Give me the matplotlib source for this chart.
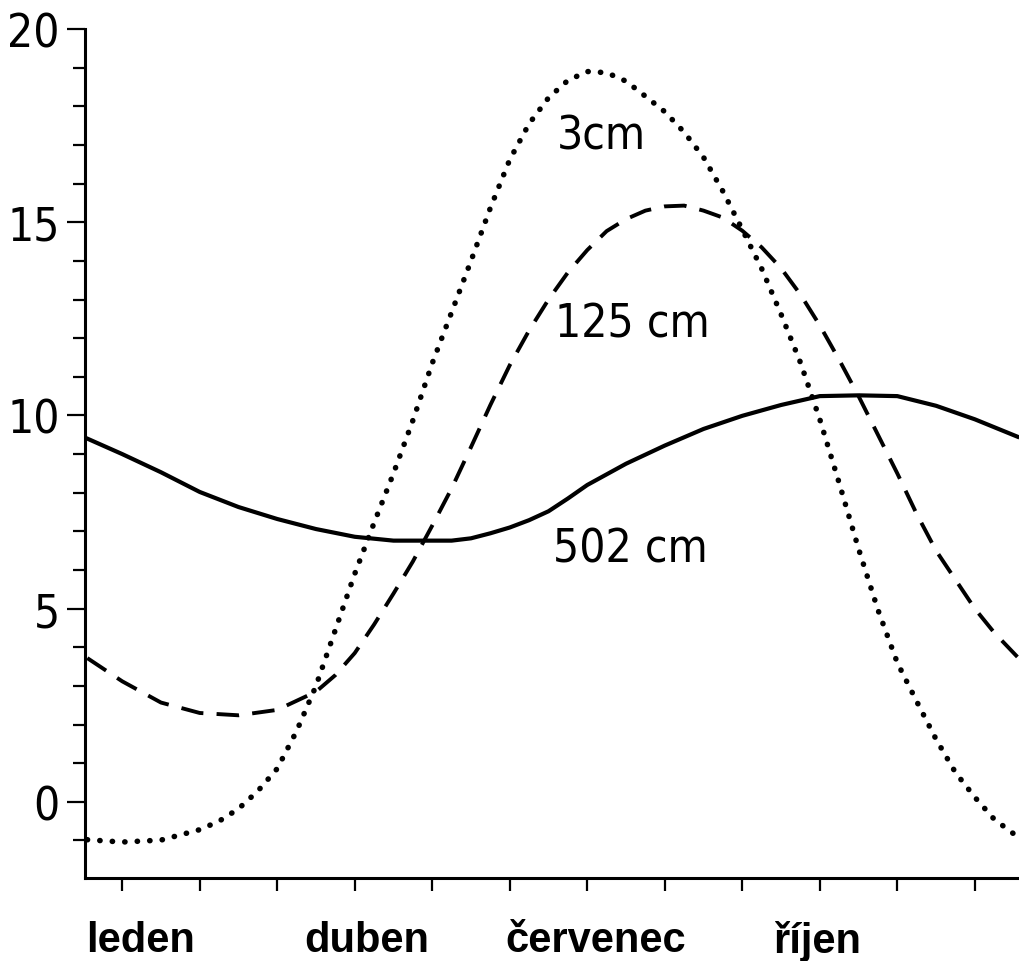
import matplotlib
matplotlib.use("Agg")
import matplotlib.pyplot as plt
from matplotlib.transforms import ScaledTranslation

# ---- data ----
# 3 cm depth (dotted)
m_3cm = [0.55, 1, 1.5, 2, 2.25, 2.5, 2.75, 3, 3.25, 3.5, 3.75, 4, 4.25,
         4.5, 4.75, 5, 5.25, 5.5, 5.75, 6, 6.25, 6.5, 6.75, 7, 7.25, 7.5,
         7.75, 8, 8.25, 8.5, 8.75, 9, 9.25, 9.5, 9.75, 10, 10.25, 10.5,
         10.75, 11, 11.25, 11.5, 11.75, 12, 12.25, 12.55]
t_3cm = [-0.98, -1.04, -0.99, -0.72, -0.5, -0.18, 0.28, 0.86, 1.83, 3.0,
         4.45, 5.9, 7.22, 8.5, 9.87, 11.35, 12.67, 14.0, 15.37, 16.62,
         17.55, 18.22, 18.67, 18.9, 18.87, 18.65, 18.26, 17.86, 17.33,
         16.68, 15.8, 14.81, 13.8, 12.62, 11.37, 9.9, 8.25, 6.55, 4.97,
         3.6, 2.6, 1.62, 0.76, 0.12, -0.45, -0.9]
# 125 cm depth (dashed)
m_125cm = [0.55, 1, 1.5, 2, 2.5, 3, 3.5, 3.75, 4, 4.25, 4.5, 4.75, 5,
           5.25, 5.5, 5.75, 6, 6.25, 6.5, 6.75, 7, 7.25, 7.5, 7.75, 8,
           8.25, 8.5, 8.75, 9, 9.25, 9.5, 9.75, 10, 10.25, 10.5, 10.75,
           11, 11.25, 11.5, 11.75, 12, 12.25, 12.55]
t_125cm = [3.72, 3.12, 2.57, 2.3, 2.24, 2.38, 2.85, 3.28, 3.85, 4.59,
           5.39, 6.22, 7.15, 8.11, 9.18, 10.27, 11.3, 12.2, 13.0, 13.7,
           14.28, 14.77, 15.08, 15.3, 15.41, 15.43, 15.3, 15.12, 14.78,
           14.35, 13.81, 13.13, 12.33, 11.44, 10.5, 9.5, 8.5, 7.45, 6.5,
           5.75, 5.0, 4.38, 3.75]
# 502 cm depth (solid)
m_502cm = [0.55, 1, 1.5, 2, 2.5, 3, 3.5, 4, 4.5, 5, 5.25, 5.5, 5.75, 6,
           6.25, 6.5, 6.75, 7, 7.5, 8, 8.5, 9, 9.5, 10, 10.5, 11, 11.5,
           12, 12.55]
t_502cm = [9.4, 9.0, 8.53, 8.02, 7.63, 7.32, 7.06, 6.86, 6.76, 6.76, 6.76,
           6.82, 6.95, 7.10, 7.29, 7.52, 7.85, 8.2, 8.75, 9.22, 9.65, 9.99,
           10.27, 10.5, 10.52, 10.5, 10.25, 9.9, 9.45]

series_labels = ["3cm", "125 cm", "502 cm"]
month_ticks = list(range(1, 13))
month_label_pos = [1, 4, 7, 10]
month_labels = ["leden", "duben", "červenec", "říjen"]
y_major = [0, 5, 10, 15, 20]
y_minor = list(range(-1, 21))

narrow = ["DejaVu Sans"]

fig = plt.figure(figsize=(10.19, 9.62), dpi=100)
ax = fig.add_axes([0.0834, 0.0863, 0.9166, 0.8825])

ax.plot(m_3cm, t_3cm, color="black", lw=4.0, linestyle=(0, (0.05, 2.2)),
        dash_capstyle="round", solid_capstyle="round")
ax.plot(m_125cm, t_125cm, color="black", lw=2.8, linestyle=(0, (5.8, 3.4)),
        dash_capstyle="butt")
ax.plot(m_502cm, t_502cm, color="black", lw=3.0, linestyle="-")

ax.set_xlim(0.52, 12.57)
ax.set_ylim(-1.97, 20)

for s in ["top", "right"]:
    ax.spines[s].set_visible(False)
for s in ["left", "bottom"]:
    ax.spines[s].set_linewidth(2.2)

ax.set_xticks(month_ticks, minor=True)
ax.set_xticks(month_label_pos)
ax.set_xticklabels(month_labels, fontfamily="Liberation Sans",
                   fontweight="bold", fontsize=30)
ax.tick_params(axis="x", which="both", direction="out", length=9.5,
               width=1.6, pad=21)

ax.set_yticks(y_major)
ax.set_yticks(y_minor, minor=True)
ax.set_yticklabels([str(v) for v in y_major], fontfamily=narrow,
                   fontstretch="condensed", fontsize=33)
ax.tick_params(axis="y", which="major", direction="out", length=13,
               width=1.6, pad=5)
ax.tick_params(axis="y", which="minor", direction="out", length=8.5,
               width=1.6)

# small horizontal offsets of the month labels (pixels)
offs = [18, 12, 8, -2]
for lab, dx in zip(ax.get_xticklabels(), offs):
    lab.set_transform(lab.get_transform() +
                      ScaledTranslation(dx / 100, 0, fig.dpi_scale_trans))

# curve labels
for txt, (lx, ly) in zip(series_labels,
                         [(6.61, 16.9), (6.59, 12.03), (6.56, 6.21)]):
    ax.text(lx, ly, txt, fontfamily=narrow, fontstretch="condensed",
            fontsize=33, va="baseline", ha="left")

fig.savefig("out.png", dpi=100)
